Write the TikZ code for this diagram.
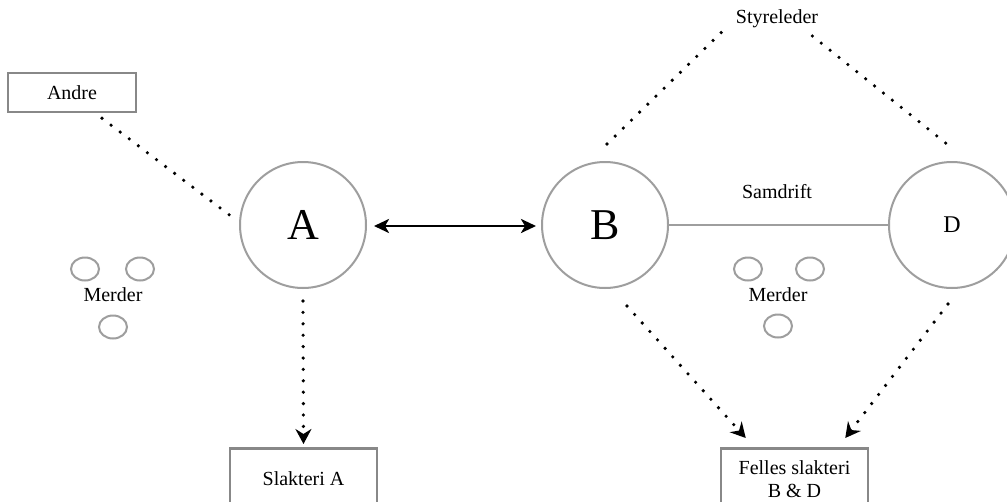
\documentclass[tikz,border=0pt]{standalone}
\usepackage{fontspec}
\setmainfont{Liberation Serif}
\usetikzlibrary{arrows.meta,calc}
\definecolor{circgray}{HTML}{9E9E9E}
\definecolor{boxgray}{HTML}{888888}
\tikzset{
  big/.style={circle, draw=circgray, line width=2pt, minimum size=126pt, inner sep=0pt, font=\fontsize{44}{50}\selectfont},
  bigD/.style={big, font=\fontsize{24}{28}\selectfont},
  box/.style={draw=boxgray, line width=2.5pt, inner sep=2pt, font=\fontsize{20}{23}\selectfont, align=center},
  lbl/.style={inner sep=0pt, font=\fontsize{20}{23}\selectfont},
  dotline/.style={black, line width=3.6pt, line cap=round, dash pattern=on 0pt off 11.4pt},
  dotarrow/.style={dotline, -{Stealth[length=15pt, width=16pt, inset=5pt]}},
  solidarrow/.style={black, line width=2.8pt, {Stealth[length=15pt, width=14pt, inset=4pt]}-{Stealth[length=15pt, width=14pt, inset=4pt]}},
  grayline/.style={draw=circgray, line width=2pt},
  merd/.style={draw=circgray, line width=2pt}
}
\begin{document}
\begin{tikzpicture}[x=1pt, y=-1pt]
\clip (0,0) rectangle (1007,501);
\fill[white] (0,0) rectangle (1007,501);

% main circles
\node[big] (A) at (303,225) {A};
\node[big] (B) at (605,225) {B};
\node[bigD] (D) at (952,225) {D};

% boxes
\node[box, minimum width=128pt, minimum height=39pt] (andre) at (72,92.5) {Andre};
\node[box, anchor=north, minimum width=147pt, minimum height=60pt] (slA) at (303.5,447) {Slakteri A};
\node[box, anchor=north, minimum width=147pt, minimum height=61pt] (fel) at (794.5,447) {Felles slakteri\\B \& D};

% labels
\node[lbl] (sty) at (777,19) {Styreleder};
\node[lbl] (sam) at (777,192) {Samdrift};
\node[lbl] (merL) at (113,295) {Merder};
\node[lbl] (merR) at (778,295) {Merder};

% merder ellipses
\draw[merd] (85,269) ellipse [x radius=14pt, y radius=11.5pt];
\draw[merd] (140,269) ellipse [x radius=14pt, y radius=11.5pt];
\draw[merd] (113,327) ellipse [x radius=14pt, y radius=11.5pt];
\draw[merd] (748,269) ellipse [x radius=14pt, y radius=11.5pt];
\draw[merd] (810,269) ellipse [x radius=14pt, y radius=11.5pt];
\draw[merd] (778,326) ellipse [x radius=14pt, y radius=11.5pt];

% connectors
\draw[solidarrow] ($(A.east)+(7,1)$) -- ($(B.west)+(-5,1)$);
\draw[grayline] (B.east) -- (D.west);
\draw[dotline] ($(andre.south)+(30,5)$) -- ($(A.west)+(-3,-5)$);
\draw[dotline] ($(B.north)+(2,-17)$) -- ($(sty.west)+(-14,13)$);
\draw[dotline] ($(sty.east)+(-6,17)$) -- ($(D.north)+(1,-12)$);
\draw[dotarrow] ($(A.south)+(0,12)$) -- ($(slA.north)+(0,-3)$);
\draw[dotarrow] ($(B.south)+(22,17)$) -- ($(fel.north west)+(26,-9)$);
\draw[dotarrow] ($(D.south)+(-4,15)$) -- ($(fel.north east)+(-24,-9)$);
\end{tikzpicture}
\end{document}
